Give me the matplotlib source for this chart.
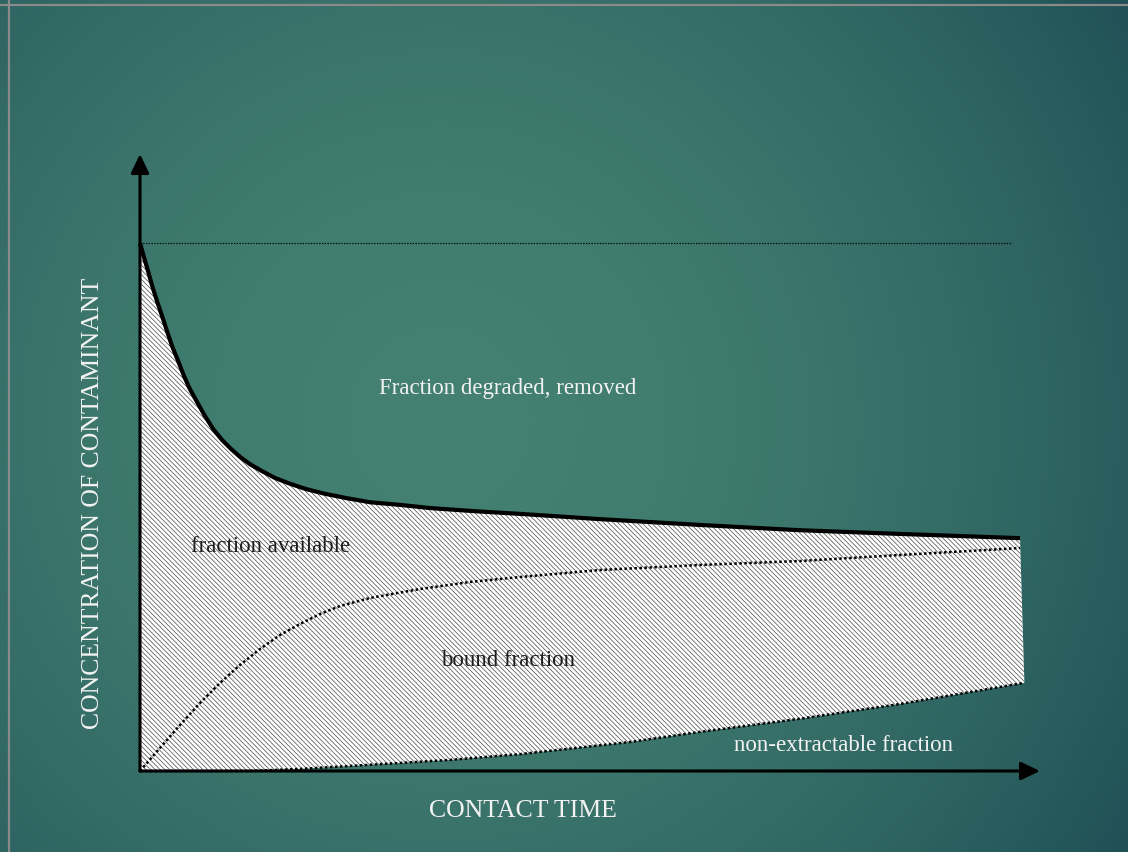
import numpy as np
import matplotlib
matplotlib.use("Agg")
import matplotlib.pyplot as plt
from matplotlib.lines import Line2D

plt.rcParams['font.family'] = ['Liberation Serif', 'DejaVu Serif']
plt.rcParams['hatch.linewidth'] = 0.5

# contact time (arbitrary units, 0..100) and concentration (% of initial)
t_total = [0, 0.45, 0.91, 1.36, 1.93, 2.50, 3.07, 3.64, 4.32, 5.00, 5.68, 6.48,
           7.39, 8.30, 9.32, 10.34, 11.36, 12.50, 13.86, 15.34, 17.05, 18.86,
           21.02, 23.41, 26.14, 29.55, 32.95, 38.07, 43.18, 52.27, 63.64, 75.0,
           86.36, 100]
c_total = [100, 97.3, 94.7, 92.0, 89.0, 86.2, 83.3, 80.5, 77.7, 74.8, 72.3, 69.9,
           67.2, 64.8, 62.7, 61.0, 59.5, 58.1, 56.8, 55.5, 54.4, 53.4,
           52.5, 51.7, 50.9, 50.4, 49.8, 49.2, 48.7, 47.7, 46.6, 45.6,
           44.9, 44.1]

t_bound = [0, 2.27, 4.55, 6.82, 9.09, 11.36, 13.64, 15.91, 18.18, 20.45, 22.73,
           26.14, 31.82, 37.5, 43.18, 52.27, 63.64, 75.0, 86.36, 100]
c_bound = [0, 4.36, 8.71, 12.88, 16.67, 20.08, 23.11, 25.76, 27.84, 29.73, 31.25,
           32.77, 34.47, 35.8, 36.74, 38.07, 39.02, 39.77, 40.91, 42.23]

t_nonext = [0, 6.8, 12.5, 18.2, 27.3, 35.2, 43.2, 55.7, 63.6, 75.0, 86.4, 100.5]
c_nonext = [0, 0, 0, 0.4, 1.3, 2.1, 3.2, 5.5, 7.4, 9.9, 12.7, 16.7]

initial_level = 100
labels = {
    'degraded': 'Fraction degraded, removed',
    'available': 'fraction available',
    'bound': 'bound fraction',
    'nonext': 'non-extractable fraction',
}
xlabel = 'CONTACT TIME'
ylabel = 'CONCENTRATION OF CONTAMINANT'

W, H = 1128, 853
fig = plt.figure(figsize=(W / 100, H / 100), dpi=100)

# background gradient
bg = fig.add_axes([0, 0, 1, 1])
yy, xx = np.mgrid[0:H, 0:W]
d = np.sqrt((xx - 440) ** 2 + (yy - 420) ** 2)
f = np.clip(d / 850, 0, 1) ** 1.8
c0 = np.array([68, 129, 114]) / 255
c1 = np.array([28, 76, 84]) / 255
img = c0[None, None, :] + (c1 - c0)[None, None, :] * f[:, :, None]
bg.imshow(img, aspect='auto', extent=[0, 1, 0, 1], interpolation='bilinear')
bg.set_axis_off()

# frame lines (grey) at top and left
fig.add_artist(Line2D([0, 1], [1 - 5.5 / H, 1 - 5.5 / H], color='#8a8a8a', lw=1.6))
fig.add_artist(Line2D([8.5 / W, 8.5 / W], [0, 1], color='#8a8a8a', lw=1.6))

ax = fig.add_axes([0, 0, 1, 1])
ax.set_axis_off()
ax.patch.set_alpha(0)
sx, sy = 8.8, 5.28
ax.set_xlim(-140 / sx, (W - 140) / sx)
ax.set_ylim(-81 / sy, (H - 81) / sy)

# hatched region between total and non-extractable curves
poly_t = list(t_total) + list(t_nonext[::-1])
poly_c = list(c_total) + list(c_nonext[::-1])
ax.fill(poly_t, poly_c, facecolor='white', edgecolor='#4a4a4a', lw=0,
        hatch='\\' * 7, zorder=2)

ax.plot(t_total, c_total, color='black', lw=3, solid_capstyle='butt',
        solid_joinstyle='round', zorder=4)
ax.plot(t_bound, c_bound, color='black', lw=1.8, ls=(0, (1, 1)), zorder=4)
ax.plot(t_nonext, c_nonext, color='black', lw=1.8, ls=(0, (1, 1)), zorder=4)
ax.plot([0, 99.1], [initial_level, initial_level], color='black', lw=0.9,
        ls=(0, (1, 1.2)), zorder=3)

# axes with arrows
arrow = dict(arrowstyle='-|>,head_length=11.5,head_width=5.5', lw=2.2,
             color='black', mutation_scale=1, shrinkA=0, shrinkB=0)
ax.annotate('', xy=(0, (772 - 155) / sy), xytext=(0, 0), arrowprops=arrow, zorder=5)
ax.annotate('', xy=((1040 - 140) / sx, 0), xytext=(0, 0), arrowprops=arrow, zorder=5)

light = '#f2f2f2'
dark = '#1e1e1e'
fs = 16.5
ax.text(41.8, 72.7, labels['degraded'], color=light, fontsize=fs, ha='center', va='center')
ax.text(14.8, 42.8, labels['available'], color=dark, fontsize=fs, ha='center', va='center', zorder=6)
ax.text(41.8, 21.2, labels['bound'], color=dark, fontsize=fs, ha='center', va='center', zorder=6)
ax.text(79.9, 5.1, labels['nonext'], color=light, fontsize=fs, ha='center', va='center')
ax.text(43.5, -7.4, xlabel, color=light, fontsize=18.5, ha='center', va='center')
ax.text(-5.34, 50.9, ylabel, color=light, fontsize=18.5, ha='center', va='center',
        rotation=90)

fig.savefig('out.png', dpi=100)
